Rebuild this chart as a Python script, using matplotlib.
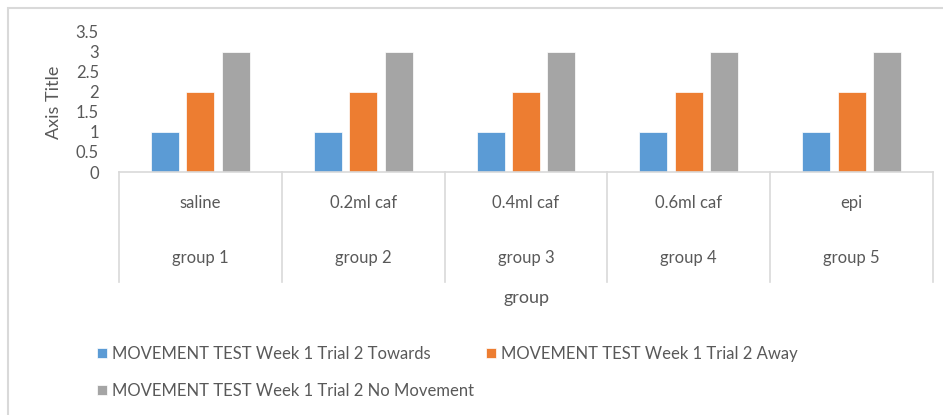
import matplotlib
matplotlib.use("Agg")
import matplotlib.pyplot as plt
import matplotlib.transforms as mtransforms
from matplotlib.patches import Rectangle
import numpy as np

groups = ["group 1", "group 2", "group 3", "group 4", "group 5"]
treatments = ["saline", "0.2ml caf", "0.4ml caf", "0.6ml caf", "epi"]
towards = [1, 1, 1, 1, 1]
away = [2, 2, 2, 2, 2]
no_movement = [3, 3, 3, 3, 3]
series_names = [
    "MOVEMENT TEST Week 1 Trial 2 Towards",
    "MOVEMENT TEST Week 1 Trial 2 Away",
    "MOVEMENT TEST Week 1 Trial 2 No Movement",
]
colors = ["#5b9bd5", "#ed7d31", "#a5a5a5"]
yticks = [0, 0.5, 1, 1.5, 2, 2.5, 3, 3.5]
ytick_labels = ["0", "0.5", "1", "1.5", "2", "2.5", "3", "3.5"]

plt.rcParams["font.family"] = ["Lato", "DejaVu Sans"]
text_color = "#595959"
line_color = "#d9d9d9"

W, H = 943, 415
fig = plt.figure(figsize=(W / 100, H / 100), dpi=100)

# plot area in pixel coordinates
left, right, top, bottom = 119, 933, 32, 172
ax = fig.add_axes([left / W, 1 - bottom / H, (right - left) / W, (bottom - top) / H])

x = np.arange(len(groups))
width = 0.172
offset = 0.218
bars = []
for i, vals in enumerate([towards, away, no_movement]):
    b = ax.bar(x + (i - 1) * offset, vals, width, color=colors[i],
               edgecolor="white", linewidth=0.5, label=series_names[i])
    bars.append(b)

ax.set_xlim(-0.5, len(groups) - 0.5)
ax.set_ylim(0, 3.5)
ax.set_yticks(yticks)
ax.set_yticklabels(ytick_labels)
ax.tick_params(axis="y", length=0, pad=14.5, labelsize=12, labelcolor=text_color)
ax.set_xticks([])
for s in ["left", "right", "top"]:
    ax.spines[s].set_visible(False)
ax.spines["bottom"].set_color(line_color)
ax.spines["bottom"].set_linewidth(1.2)
ax.set_ylabel("Axis Title", fontsize=13, color=text_color, labelpad=10)

# multi-level category axis
trans = mtransforms.blended_transform_factory(ax.transData, ax.transAxes)
y_end = (bottom - 282) / (bottom - top)
for xb in np.arange(-0.5, len(groups), 1.0):
    ax.plot([xb, xb], [0, y_end], color=line_color, lw=1.2,
            transform=trans, clip_on=False)
y_sub = (bottom - 203) / (bottom - top)
y_grp = (bottom - 258) / (bottom - top)
for i in range(len(groups)):
    ax.text(x[i], y_sub, treatments[i], transform=trans, ha="center",
            va="center", fontsize=12, color=text_color)
    ax.text(x[i], y_grp, groups[i], transform=trans, ha="center",
            va="center", fontsize=12, color=text_color)

fig.text((left + right) / 2 / W, 1 - 298 / H, "group", ha="center",
         va="center", fontsize=13, color=text_color)

# legend: order so Towards/Away fill the first row
handles = [bars[0], bars[2], bars[1]]
labels = [series_names[0], series_names[2], series_names[1]]
leg = fig.legend(handles, labels, ncol=2, loc="upper left",
                 bbox_to_anchor=(97 / W, 1 - 346 / H), frameon=False,
                 fontsize=12, labelcolor=text_color, handlelength=0.6,
                 handleheight=0.6, handletextpad=0.3, columnspacing=0.7,
                 labelspacing=1.26, borderaxespad=0, borderpad=0)

# chart frame
fig.add_artist(Rectangle((8 / W, -0.1), 1.1, 1 - 8 / H + 0.1,
                         transform=fig.transFigure, fill=False,
                         edgecolor=line_color, lw=1.5))

fig.savefig("out.png", dpi=100)
